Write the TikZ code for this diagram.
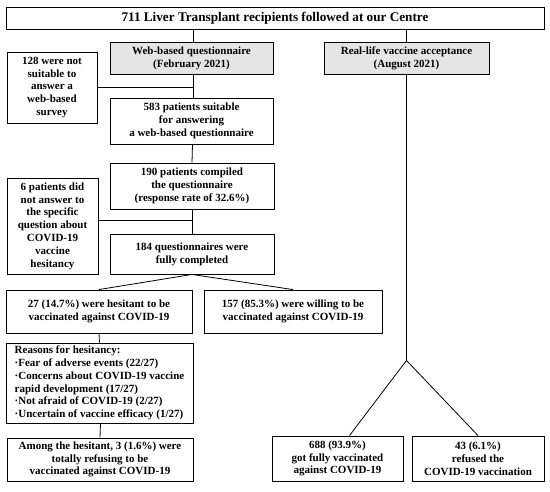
\documentclass[tikz,border=0pt]{standalone}
\usepackage{fontspec}
\setmainfont{Liberation Serif}
\usetikzlibrary{positioning,calc}
\definecolor{headgray}{RGB}{229,229,229}
\newcommand{\hbul}{\textperiodcentered}

\begin{document}
\begin{tikzpicture}[
    x=1pt, y=-1pt,
    box/.style={draw=black, line width=0.9pt, fill=white, inner sep=2pt,
                align=center, font=\fontsize{11}{12.8}\selectfont\bfseries},
    head/.style={box, fill=headgray},
    title/.style={box, font=\fontsize{13.2}{14}\selectfont\bfseries},
    link/.style={draw=black, line width=0.8pt}
]
\useasboundingbox (0,0) rectangle (550,491);

% Cohort
\node[title, minimum width=538pt, minimum height=22pt] (cohort) at (275,18)
    {711 Liver Transplant recipients followed at our Centre};

% Two arms
\node[head, minimum width=163pt, minimum height=32pt] (web) at (191.5,58)
    {Web-based questionnaire\\(February 2021)};
\node[head, minimum width=165pt, minimum height=32pt] (real) at (406.5,58)
    {Real-life vaccine acceptance\\(August 2021)};

% Web-based arm
\node[box, minimum width=90pt, minimum height=71pt] (nosuit) at (52,87.5)
    {128 were not\\suitable to\\answer a\\web-based\\survey};
\node[box, minimum width=163pt, minimum height=46pt] (suit) at (191.5,121)
    {583 patients suitable\\for answering\\a web-based questionnaire};
\node[box, minimum width=164pt, minimum height=46pt] (compiled) at (192,186)
    {190 patients compiled\\the questionnaire\\(response rate of 32.6\%)};
\node[box, minimum width=91pt, minimum height=96pt] (noans) at (52.5,226)
    {6 patients did\\not answer to\\the specific\\question about\\COVID-19\\vaccine\\hesitancy};
\node[box, minimum width=164pt, minimum height=40pt] (full) at (192,254)
    {184 questionnaires were\\fully completed};
\node[box, minimum width=186pt, minimum height=43pt] (hesit) at (99,311.5)
    {27 (14.7\%) were hesitant to be\\vaccinated against COVID-19};
\node[box, minimum width=178pt, minimum height=43pt] (willing) at (293,311.5)
    {157 (85.3\%) were willing to be\\vaccinated against COVID-19};
\node[box, align=left, minimum width=187pt, minimum height=80pt] (reasons) at (99.5,383)
    {Reasons for hesitancy:\\
     \hbul Fear of adverse events (22/27)\\
     \hbul Concerns about COVID-19 vaccine\\
     rapid development (17/27)\\
     \hbul Not afraid of COVID-19 (2/27)\\
     \hbul Uncertain of vaccine efficacy (1/27)};
\node[box, minimum width=186pt, minimum height=43pt] (among) at (100,459.5)
    {Among the hesitant, 3 (1.6\%) were\\totally refusing to be\\vaccinated against COVID-19};

% Real-life arm
\node[box, minimum width=131pt, minimum height=45pt] (vacc) at (337.5,458.5)
    {688 (93.9\%)\\got fully vaccinated\\against COVID-19};
\node[box, minimum width=132pt, minimum height=45pt] (refused) at (478,458.5)
    {43 (6.1\%)\\refused the\\COVID-19 vaccination};

% Connectors
\draw[link] ([xshift=1.5pt]web.north) -- ([xshift=1.5pt]web.north |- cohort.south);
\draw[link] (real.north) -- (real.north |- cohort.south);

\coordinate (split1) at ([xshift=1.5pt]web.south |- nosuit.east);
\draw[link] ([xshift=1.5pt]web.south) -- ([xshift=1.5pt]suit.north);
\draw[link] (nosuit.east) -- (split1);

\draw[link] ([xshift=1pt]suit.south) -- (compiled.north);
\coordinate (split2) at ([yshift=-11pt]compiled.south);
\draw[link] (compiled.south) -- (full.north);
\draw[link] (noans.east |- split2) -- (split2);

\draw[link] (full.south) -- (hesit.north);
\draw[link] (full.south) -- (willing.north);
\draw[link] (hesit.south) -- (reasons.north);
\draw[link] ([xshift=1pt]reasons.south) -- (among.north);

\path (real.south) ++(0,286) coordinate (fork);
\draw[link] (real.south) -- (fork);
\draw[link] (fork) -- ([xshift=12pt]vacc.north);
\draw[link] (fork) -- (refused.north);

\end{tikzpicture}
\end{document}
